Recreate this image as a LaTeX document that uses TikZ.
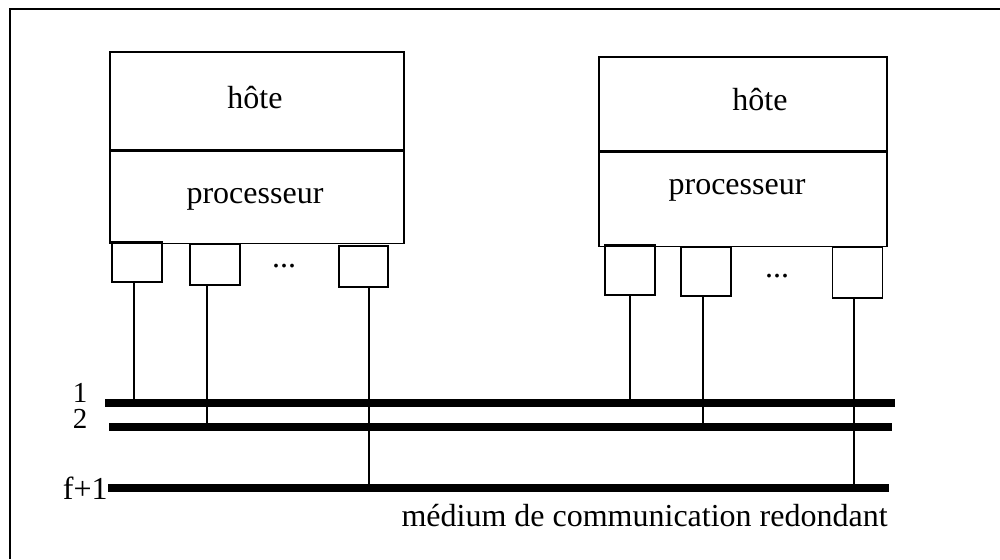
\documentclass[tikz,border=0pt]{standalone}
\usepackage{fontspec}
\setmainfont{Liberation Serif}
\begin{document}
\begin{tikzpicture}[x=0.5pt,y=-0.5pt,
  box/.style={draw,line width=0.8pt,inner sep=0pt},
  port/.style={draw,line width=0.8pt,inner sep=0pt,minimum width=25pt},
  bus/.style={line width=4pt},
  wire/.style={line width=0.9pt},
  lbl/.style={inner sep=0pt,font=\fontsize{16}{19}\selectfont},
  num/.style={inner sep=0pt,font=\fontsize{14.5}{17}\selectfont}]
\useasboundingbox (0,0) rectangle (1000,559);
% frame (top and left edges visible)
\draw[line width=1.2pt] (10,559) -- (10,9) -- (1000,9);
% left station
\node[box,minimum width=147pt,minimum height=49pt] (h1) at (257,101) {};
\node[box,minimum width=147pt,minimum height=46pt,anchor=north] (c1) at (h1.south) {};
\node[lbl] (t1) at (255,98) {hôte};
\node[lbl] (t2) at (255,199) {processeur};
\node[port,minimum height=20pt] (p1) at (137,262) {};
\node[port,minimum height=20.5pt] (p2) at (215,264.5) {};
\node[port,minimum height=20.5pt,minimum width=24.5pt] (p3) at (363.5,266.5) {};
\node[lbl] (d1) at (284,266) {...};
% right station
\node[box,minimum width=144pt,minimum height=47pt] (h2) at (743,104) {};
\node[box,minimum width=144pt,minimum height=47pt,anchor=north] (c2) at (h2.south) {};
\node[lbl] (t3) at (760,100) {hôte};
\node[lbl] (t4) at (737,190) {processeur};
\node[port,minimum height=25pt] (p4) at (630,270) {};
\node[port,minimum height=24.5pt] (p5) at (706,271.5) {};
\node[port,minimum height=25.5pt] (p6) at (857.5,272.5) {};
\node[lbl] (d2) at (777,276) {...};
% buses
\coordinate (b1w) at (105,403); \coordinate (b1e) at (895,403);
\coordinate (b2w) at (109,427); \coordinate (b2e) at (892,427);
\coordinate (b3w) at (108,488); \coordinate (b3e) at (889,488);
\draw[bus] (b1w) -- (b1e);
\draw[bus] (b2w) -- (b2e);
\draw[bus] (b3w) -- (b3e);
% wires
\draw[wire] ([xshift=-1.5pt]p1.south) -- ([xshift=-1.5pt]p1.south |- b1w);
\draw[wire] ([xshift=-4pt]p2.south) -- ([xshift=-4pt]p2.south |- b2w);
\draw[wire] ([xshift=2.75pt]p3.south) -- ([xshift=2.75pt]p3.south |- b3w);
\draw[wire] (p4.south) -- (p4.south |- b1w);
\draw[wire] ([xshift=-1.5pt]p5.south) -- ([xshift=-1.5pt]p5.south |- b2w);
\draw[wire] ([xshift=-1.75pt]p6.south) -- ([xshift=-1.75pt]p6.south |- b3w);
% labels
\node[num] (l1) at (80,393) {1};
\node[num] (l2) at (80,419) {2};
\node[lbl,anchor=east] (l3) at (b3w) {f+1};
\node[lbl,anchor=east] (l4) at (888,516) {médium de communication redondant};
\end{tikzpicture}
\end{document}
